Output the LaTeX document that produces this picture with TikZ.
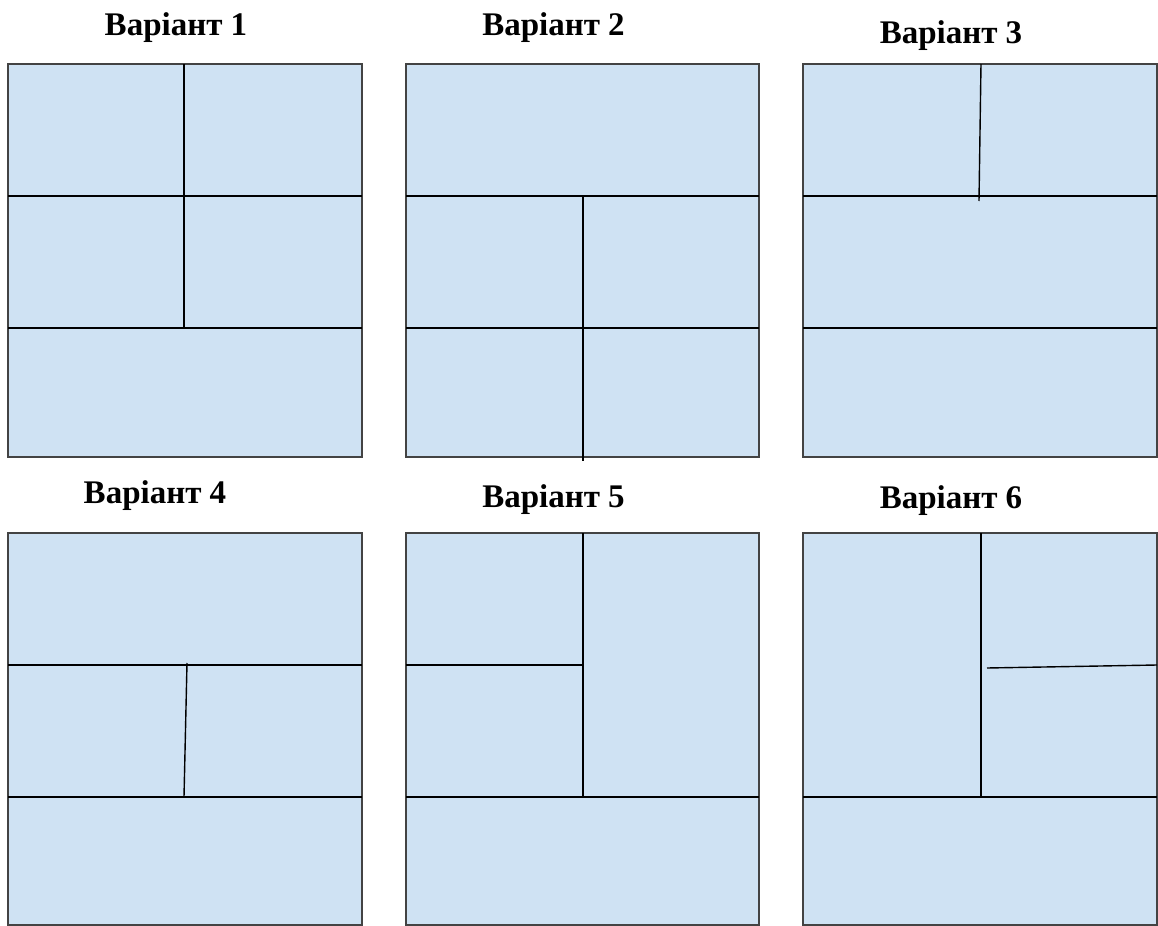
\documentclass[tikz,border=0pt]{standalone}
\usepackage{fontspec}
\setmainfont{Liberation Serif}
\definecolor{panelfill}{HTML}{CFE2F3}
\definecolor{panelborder}{HTML}{434343}
\begin{document}
\begin{tikzpicture}[x=0.5pt,y=-0.5pt,
  panel/.style={fill=panelfill,draw=panelborder,line width=0.8pt},
  divider/.style={draw=black,line width=0.7pt},
  title/.style={font=\fontsize{16.5}{20}\selectfont\bfseries,anchor=base,inner sep=0pt}]
\useasboundingbox (0,0) rectangle (1158,926);
% titles
\node[title] (t1) at (176,35) {Варіант 1};
\node[title] (t2) at (553.5,35) {Варіант 2};
\node[title] (t3) at (951,43) {Варіант 3};
\node[title] (t4) at (155,503) {Варіант 4};
\node[title] (t5) at (553.5,507) {Варіант 5};
\node[title] (t6) at (951,508) {Варіант 6};
% Variant 1
\draw[panel] (8,64) rectangle (362,457);
\draw[divider] (8,196) -- (362,196);
\draw[divider] (8,328) -- (362,328);
\draw[divider] (184,64) -- (184,328);
% Variant 2
\draw[panel] (406,64) rectangle (759,457);
\draw[divider] (406,196) -- (759,196);
\draw[divider] (406,328) -- (759,328);
\draw[divider] (583,196) -- (583,461);
% Variant 3
\draw[panel] (803,64) rectangle (1157,457);
\draw[divider] (803,196) -- (1157,196);
\draw[divider] (803,328) -- (1157,328);
\draw[divider] (981,64) -- (979,201);
% Variant 4
\draw[panel] (8,533) rectangle (362,925);
\draw[divider] (8,665) -- (362,665);
\draw[divider] (8,797) -- (362,797);
\draw[divider] (187,663) -- (184,797);
% Variant 5
\draw[panel] (406,533) rectangle (759,925);
\draw[divider] (406,665) -- (583,665);
\draw[divider] (406,797) -- (759,797);
\draw[divider] (583,533) -- (583,797);
% Variant 6
\draw[panel] (803,533) rectangle (1157,925);
\draw[divider] (803,797) -- (1157,797);
\draw[divider] (981,533) -- (981,797);
\draw[divider] (987,668) -- (1157,665);
\end{tikzpicture}
\end{document}
